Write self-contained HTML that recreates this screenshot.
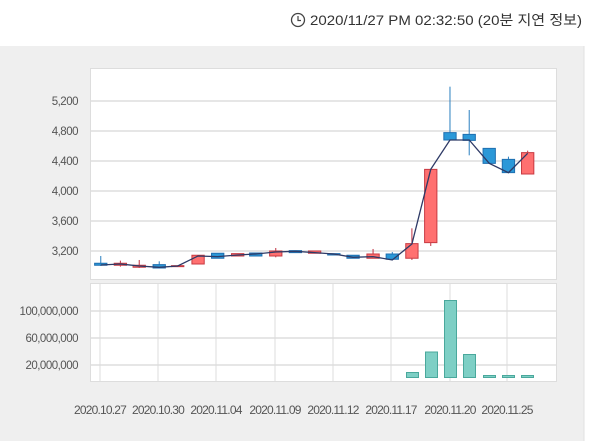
<!DOCTYPE html><html><head><meta charset="utf-8"><style>
body{margin:0;width:600px;height:441px;background:#fff;overflow:hidden;font-family:"Liberation Sans","Noto Sans CJK KR",sans-serif}
</style></head><body>
<svg width="600" height="441" xmlns="http://www.w3.org/2000/svg" font-family="Liberation Sans, Noto Sans CJK KR, sans-serif">
<rect x="0" y="46" width="584" height="395" fill="#efefef"/>
<line x1="584" y1="46" x2="584" y2="441" stroke="#e2e2e2"/>
<circle cx="298" cy="20" r="6.5" fill="none" stroke="#444" stroke-width="1.3"/>
<path d="M298 16v4.5h3" fill="none" stroke="#444" stroke-width="1.2"/>
<text x="310" y="25" font-size="14" fill="#333" textLength="272" lengthAdjust="spacingAndGlyphs">2020/11/27 PM 02:32:50 (20분 지연 정보)</text>
<rect x="90.5" y="68.5" width="466" height="211" fill="#fff" stroke="#ddd"/>
<rect x="90.5" y="283.5" width="466" height="98" fill="#fff" stroke="#ddd"/>
<g stroke="#ddd" stroke-width="1.5">
<line x1="91" y1="101" x2="556" y2="101"/><line x1="91" y1="131" x2="556" y2="131"/><line x1="91" y1="161" x2="556" y2="161"/><line x1="91" y1="191" x2="556" y2="191"/><line x1="91" y1="221" x2="556" y2="221"/><line x1="91" y1="251" x2="556" y2="251"/>
<line x1="91" y1="311" x2="556" y2="311"/><line x1="91" y1="338" x2="556" y2="338"/><line x1="91" y1="365" x2="556" y2="365"/>
</g>
<g stroke="#ddd" stroke-width="1">
<line x1="100" y1="284" x2="100" y2="381"/><line x1="158" y1="284" x2="158" y2="381"/><line x1="216" y1="284" x2="216" y2="381"/><line x1="275" y1="284" x2="275" y2="381"/><line x1="333" y1="284" x2="333" y2="381"/><line x1="391" y1="284" x2="391" y2="381"/><line x1="450" y1="284" x2="450" y2="381"/><line x1="507" y1="284" x2="507" y2="381"/>
</g>
<g font-size="11.5" fill="#555" text-anchor="end" letter-spacing="-0.5">
<text x="78" y="105">5,200</text><text x="78" y="135">4,800</text><text x="78" y="165">4,400</text><text x="78" y="195">4,000</text><text x="78" y="225">3,600</text><text x="78" y="255">3,200</text>
<text x="78" y="315">100,000,000</text><text x="78" y="342">60,000,000</text><text x="78" y="369">20,000,000</text>
</g>
<g font-size="12" fill="#555" text-anchor="middle" letter-spacing="-0.8">
<text x="100" y="414">2020.10.27</text><text x="158" y="414">2020.10.30</text><text x="216" y="414">2020.11.04</text><text x="275" y="414">2020.11.09</text><text x="333" y="414">2020.11.12</text><text x="391" y="414">2020.11.17</text><text x="450" y="414">2020.11.20</text><text x="507" y="414">2020.11.25</text>
</g>
<g transform="translate(0,40) scale(0.3846,0.3333)">
<g stroke="#2a7fc0">
<line x1="262" y1="648" x2="262" y2="678" vector-effect="non-scaling-stroke"/>
<line x1="414" y1="664" x2="414" y2="684" vector-effect="non-scaling-stroke"/>
<line x1="1020" y1="636" x2="1020" y2="660" vector-effect="non-scaling-stroke"/>
<line x1="1170" y1="140" x2="1170" y2="300" vector-effect="non-scaling-stroke"/>
<line x1="1220" y1="210" x2="1220" y2="346" vector-effect="non-scaling-stroke"/>
<line x1="1322" y1="350" x2="1322" y2="398" vector-effect="non-scaling-stroke"/>
</g>
<g stroke="#c03040">
<line x1="313" y1="662" x2="313" y2="680" vector-effect="non-scaling-stroke"/>
<line x1="362" y1="660" x2="362" y2="684" vector-effect="non-scaling-stroke"/>
<line x1="717" y1="624" x2="717" y2="652" vector-effect="non-scaling-stroke"/>
<line x1="970" y1="627" x2="970" y2="655" vector-effect="non-scaling-stroke"/>
<line x1="1071" y1="565" x2="1071" y2="660" vector-effect="non-scaling-stroke"/>
<line x1="1120" y1="388" x2="1120" y2="618" vector-effect="non-scaling-stroke"/>
<line x1="1372" y1="332" x2="1372" y2="402" vector-effect="non-scaling-stroke"/>
</g>
<g stroke="#1f6fb0" fill="#2b98d8">
<rect x="246" y="670" width="32" height="6" vector-effect="non-scaling-stroke"/>
<rect x="398" y="674" width="32" height="10" vector-effect="non-scaling-stroke"/>
<rect x="550" y="640" width="32" height="15" vector-effect="non-scaling-stroke"/>
<rect x="649" y="639" width="32" height="9" vector-effect="non-scaling-stroke"/>
<rect x="752" y="632" width="32" height="6" vector-effect="non-scaling-stroke"/>
<rect x="852" y="641" width="32" height="4" vector-effect="non-scaling-stroke"/>
<rect x="902" y="646" width="32" height="9" vector-effect="non-scaling-stroke"/>
<rect x="1004" y="642" width="32" height="16" vector-effect="non-scaling-stroke"/>
<rect x="1154" y="278" width="32" height="22" vector-effect="non-scaling-stroke"/>
<rect x="1204" y="283" width="32" height="18" vector-effect="non-scaling-stroke"/>
<rect x="1256" y="325" width="32" height="45" vector-effect="non-scaling-stroke"/>
<rect x="1306" y="358" width="32" height="40" vector-effect="non-scaling-stroke"/>
</g>
<g stroke="#c83a42" fill="#ff7070">
<rect x="297" y="670" width="32" height="6" vector-effect="non-scaling-stroke"/>
<rect x="346" y="676" width="32" height="6" vector-effect="non-scaling-stroke"/>
<rect x="446" y="677" width="32" height="3" vector-effect="non-scaling-stroke"/>
<rect x="499" y="646" width="32" height="26" vector-effect="non-scaling-stroke"/>
<rect x="602" y="641" width="32" height="7" vector-effect="non-scaling-stroke"/>
<rect x="701" y="633" width="32" height="15" vector-effect="non-scaling-stroke"/>
<rect x="802" y="633" width="32" height="7" vector-effect="non-scaling-stroke"/>
<rect x="954" y="642" width="32" height="13" vector-effect="non-scaling-stroke"/>
<rect x="1055" y="611" width="32" height="44" vector-effect="non-scaling-stroke"/>
<rect x="1104" y="388" width="32" height="220" vector-effect="non-scaling-stroke"/>
<rect x="1356" y="338" width="32" height="64" vector-effect="non-scaling-stroke"/>
</g>
<polyline fill="none" stroke="#2e3a66" stroke-width="1.3" vector-effect="non-scaling-stroke" points="262,675 313,672 362,678 414,682 462,678 515,648 566,650 618,645 665,642 717,636 768,634 818,638 868,642 918,652 970,650 1020,660 1071,612 1120,388 1170,300 1220,300 1272,370 1322,398 1372,340"/>
</g>
<g fill="#7ecfc5" stroke="#4aa89c">
<rect x="406.5" y="372.5" width="12" height="5"/>
<rect x="425.5" y="352" width="12" height="25.5"/>
<rect x="444.5" y="300.5" width="12" height="77"/>
<rect x="463.5" y="354.5" width="12" height="23"/>
<rect x="483.5" y="375.5" width="12" height="2"/>
<rect x="502.5" y="375.5" width="12" height="2"/>
<rect x="521.5" y="375.5" width="12" height="2"/>
</g>
</svg>
</body></html>
